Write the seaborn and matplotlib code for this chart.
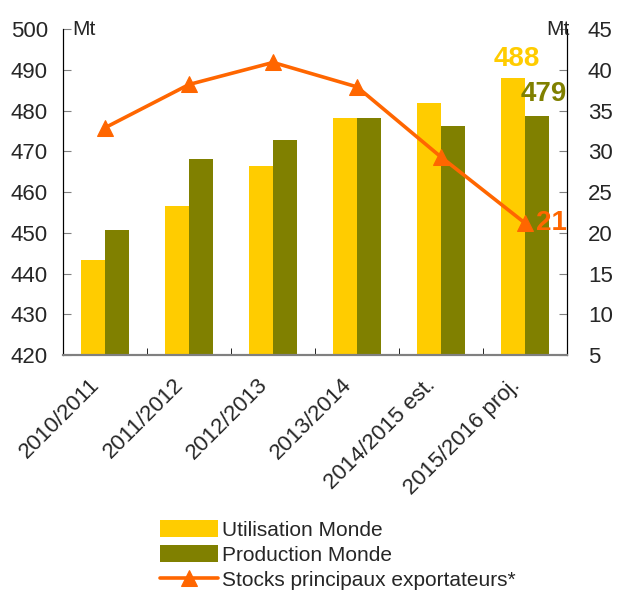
import matplotlib
matplotlib.use("Agg")
import matplotlib.pyplot as plt
import matplotlib.transforms as mtransforms
from matplotlib.ticker import MultipleLocator, FixedLocator
import numpy as np
import pandas as pd
import seaborn as sns

# data
campaigns = ["2010/2011", "2011/2012", "2012/2013", "2013/2014",
             "2014/2015 est.", "2015/2016 proj."]
utilisation = [443.3, 456.6, 466.4, 478.2, 481.8, 488.0]
production = [450.7, 468.1, 472.8, 478.2, 476.2, 478.6]
stocks = [32.9, 38.2, 40.9, 37.9, 29.3, 21.2]

YELLOW = "#FFCC00"
OLIVE = "#808000"
ORANGE = "#FF6600"

sns.set_style("white")
plt.rcParams["font.family"] = ["Liberation Sans", "DejaVu Sans"]

df = pd.DataFrame({
    "campagne": campaigns * 2,
    "valeur": utilisation + production,
    "serie": ["Utilisation Monde"] * 6 + ["Production Monde"] * 6,
})

fig = plt.figure(figsize=(6.19, 5.92), dpi=100)
ax = fig.add_axes([0.102, 0.40, 0.814, 0.551])

sns.barplot(data=df, x="campagne", y="valeur", hue="serie",
            palette=[YELLOW, OLIVE], width=0.58, saturation=1,
            linewidth=0, ax=ax, legend=True)
ax.set_ylim(420, 500)
ax.set_xlim(-0.5, 5.5)
ax.yaxis.set_major_locator(MultipleLocator(10))
ax.set_xlabel("")
ax.set_ylabel("")

ax2 = ax.twinx()
sns.lineplot(x=np.arange(6), y=stocks, color=ORANGE, lw=2.6, marker="^",
             markersize=11, markeredgecolor=ORANGE, ax=ax2,
             label="Stocks principaux exportateurs*", legend=False)
ax2.set_ylim(5, 45)
ax2.yaxis.set_major_locator(MultipleLocator(5))

# ticks and spines
for a in (ax, ax2):
    a.spines["top"].set_visible(False)
    a.spines["left"].set_color("black")
    a.spines["right"].set_color("black")
    a.spines["bottom"].set_color("#808080")
    a.spines["bottom"].set_linewidth(1.5)
ax.tick_params(axis="y", direction="in", length=6, labelsize=16, pad=11,
               left=True, color="#808080")
ax2.tick_params(axis="y", direction="in", length=6, labelsize=16, pad=15,
                right=True, color="#808080")
ax.set_xticks(range(6))
ax.set_xticklabels(campaigns, rotation=45, ha="right",
                   rotation_mode="anchor", fontsize=16)
ax.tick_params(axis="x", length=0, pad=14)
shift = mtransforms.ScaledTranslation(-0.16, 0, fig.dpi_scale_trans)
for lbl in ax.get_xticklabels():
    lbl.set_transform(lbl.get_transform() + shift)
ax.xaxis.set_minor_locator(FixedLocator(np.arange(0.5, 5, 1)))
ax.tick_params(axis="x", which="minor", direction="in", length=5,
               bottom=True, color="black")

# units
ax.text(0.018, 1.0, "Mt", transform=ax.transAxes, fontsize=15,
        va="center", ha="left")
ax2.text(1.006, 1.0, "Mt", transform=ax2.transAxes, fontsize=15,
         va="center", ha="right")

# value labels
ax.text(4.9, utilisation[5] + 4.6, "488", color=YELLOW, fontsize=20,
        fontweight="bold", ha="center", va="center")
ax.text(5.22, production[5] + 5.5, "479", color=OLIVE, fontsize=20,
        fontweight="bold", ha="center", va="center")
ax2.text(5.5, stocks[5], "21", color=ORANGE, fontsize=20,
         fontweight="bold", ha="right", va="center")

# legend below
h1, l1 = ax.get_legend_handles_labels()
h2, l2 = ax2.get_legend_handles_labels()
ax.get_legend().remove()
fig.legend(h1 + h2, l1 + l2, loc="lower left",
           bbox_to_anchor=(0.255, 0.0), frameon=False, fontsize=15,
           handlelength=2.8, handleheight=0.85, labelspacing=0.27,
           handletextpad=0.2, borderaxespad=0, borderpad=0.1)

fig.savefig("out.png", dpi=100)
